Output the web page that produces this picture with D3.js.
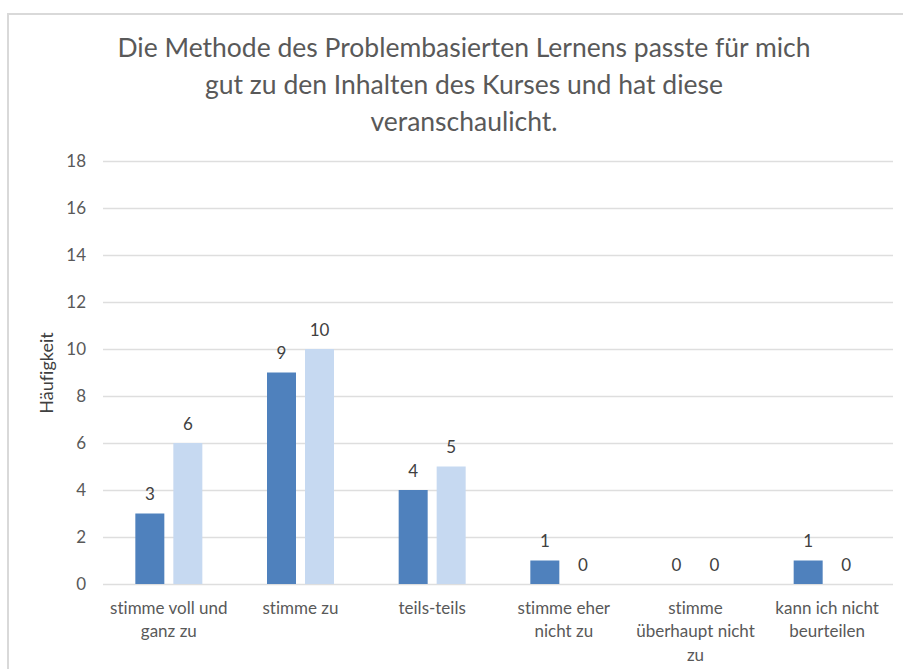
<!DOCTYPE html>
<html>
<head>
<meta charset="utf-8">
<script src="https://cdn.jsdelivr.net/npm/d3@7"></script>
<style>
  body { margin: 0; background: #fff; }
  svg text { font-family: Lato, "Open Sans", sans-serif; font-variant-ligatures: none; }
</style>
</head>
<body>
<svg id="chart" width="903" height="669"></svg>
<script>
// chart data
var titleLines = ['Die Methode des Problembasierten Lernens passte für mich',
                  'gut zu den Inhalten des Kurses und hat diese',
                  'veranschaulicht.'];
var categories = [['stimme voll und','ganz zu'],['stimme zu'],['teils-teils'],
                  ['stimme eher','nicht zu'],['stimme','überhaupt nicht','zu'],
                  ['kann ich nicht','beurteilen']];
var series1 = [3, 9, 4, 1, 0, 1];
var series2 = [6, 10, 5, 0, 0, 0];
var yTicks = [0, 2, 4, 6, 8, 10, 12, 14, 16, 18];
var yTitle = 'Häufigkeit';

var plot = {left: 103, right: 893, top: 161, bottom: 584};

var svg = d3.select('#chart');

// chart border (only top and left visible)
svg.append('rect')
    .attr('x', 8).attr('y', 14)
    .attr('width', 1000).attr('height', 700)
    .attr('fill', 'none')
    .attr('stroke', '#d9d9d9')
    .attr('stroke-width', 2);

// title
svg.append('g').selectAll('text')
    .data(titleLines)
    .enter().append('text')
    .attr('x', 464)
    .attr('y', function(d,i){ return 48 + i*37; })
    .attr('dy', '0.35em')
    .attr('text-anchor', 'middle')
    .attr('fill', '#595959')
    .style('font-size', '26.5px')
    .text(function(d){ return d; });

var x = d3.scaleBand()
    .domain(d3.range(categories.length))
    .range([plot.left, plot.right]);

var y = d3.scaleLinear()
    .domain([0, 18])
    .range([plot.bottom, plot.top]);

// gridlines + y axis
var yAxis = d3.axisLeft(y)
    .tickValues(yTicks)
    .tickSize(-(plot.right - plot.left))
    .tickPadding(17);

var gy = svg.append('g')
    .attr('transform', 'translate(' + plot.left + ',0)')
    .call(yAxis);
gy.select('.domain').remove();
gy.selectAll('.tick line')
    .attr('stroke', '#dedede')
    .attr('stroke-width', 1.3);
gy.selectAll('.tick text')
    .attr('fill', '#595959')
    .style('font-size', '17px');

// y title
svg.append('text')
    .attr('transform', 'translate(47,373) rotate(-90)')
    .attr('text-anchor', 'middle')
    .attr('dy', '0.35em')
    .attr('fill', '#404040')
    .style('font-size', '18px')
    .text(yTitle);

// bars
var barW = 29, barGap = 9;
var seriesList = [
  {values: series1, color: '#4f81bd', offset: -(barGap/2 + barW)},
  {values: series2, color: '#c6d9f1', offset: barGap/2}
];

seriesList.forEach(function(s){
  var g = svg.append('g');
  g.selectAll('rect')
    .data(s.values)
    .enter().append('rect')
    .attr('x', function(d,i){ return x(i) + x.bandwidth()/2 + s.offset; })
    .attr('y', function(d){ return y(d); })
    .attr('width', barW)
    .attr('height', function(d){ return y(0) - y(d); })
    .attr('fill', s.color);

  g.selectAll('text')
    .data(s.values)
    .enter().append('text')
    .attr('x', function(d,i){ return x(i) + x.bandwidth()/2 + s.offset + barW/2; })
    .attr('y', function(d){ return y(d) - 19; })
    .attr('dy', '0.35em')
    .attr('text-anchor', 'middle')
    .attr('fill', '#404040')
    .style('font-size', '17px')
    .text(function(d){ return d; });
});

// category labels
var catG = svg.append('g').selectAll('text')
    .data(categories)
    .enter().append('text')
    .attr('text-anchor', 'middle')
    .attr('fill', '#595959')
    .style('font-size', '17px');

catG.selectAll('tspan')
    .data(function(d,i){ return d.map(function(t){ return {t: t, i: i}; }); })
    .enter().append('tspan')
    .attr('x', function(d){ return x(d.i) + x.bandwidth()/2; })
    .attr('y', function(d,j){ return 608 + j*23.5; })
    .attr('dy', '0.35em')
    .text(function(d){ return d.t; });
</script>
</body>
</html>
